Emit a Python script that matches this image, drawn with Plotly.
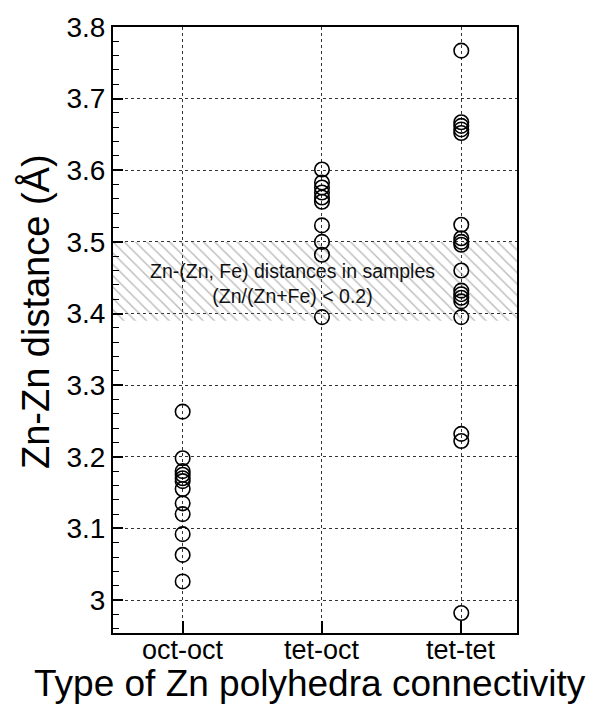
import plotly.graph_objects as go

# ---- data ----
categories = ["oct-oct", "tet-oct", "tet-tet"]
oct_oct = [3.263, 3.198, 3.180, 3.175, 3.170, 3.166, 3.155, 3.135, 3.120, 3.092, 3.063, 3.026]
tet_oct = [3.601, 3.583, 3.576, 3.569, 3.562, 3.556, 3.523, 3.500, 3.482, 3.395]
tet_tet = [3.767, 3.667, 3.662, 3.657, 3.652, 3.524, 3.505, 3.500, 3.496, 3.460,
           3.432, 3.427, 3.422, 3.417, 3.395, 3.232, 3.222, 2.982]
band_range = [3.39, 3.50]
band_label = "Zn-(Zn, Fe) distances in samples<br>(Zn/(Zn+Fe) &lt; 0.2)"

x_range = [-0.5, 2.4]
y_range = [2.954, 3.8]
FONT = "Arial, Liberation Sans, Helvetica, sans-serif"

fig = go.Figure()

# hatched band
fig.add_trace(go.Scatter(
    x=[x_range[0], x_range[1], x_range[1], x_range[0], x_range[0]],
    y=[band_range[0], band_range[0], band_range[1], band_range[1], band_range[0]],
    mode="lines", line=dict(width=0), fill="toself",
    fillcolor="rgba(0,0,0,0)",
    fillpattern=dict(shape="\\", fgcolor="#7a7a7a", bgcolor="rgba(255,255,255,0)",
                     size=8, solidity=0.18),
    hoverinfo="skip", showlegend=False))

for i, vals in enumerate([oct_oct, tet_oct, tet_tet]):
    fig.add_trace(go.Scatter(
        x=[i] * len(vals), y=vals, mode="markers",
        marker=dict(symbol="circle-open", size=14.5, color="black",
                    line=dict(width=1.6, color="black")),
        showlegend=False))

fig.add_annotation(x=0.785, y=3.442, xref="x", yref="y", text=band_label,
                   showarrow=False, font=dict(family=FONT, size=19.5, color="#111"),
                   align="center")

# category labels under the axis
for i, c in enumerate(categories):
    fig.add_annotation(x=i, y=-0.028, xref="x", yref="paper", text=c,
                       showarrow=False, xanchor="center", yanchor="middle",
                       font=dict(family=FONT, size=27, color="black"))

fig.add_annotation(x=0.488, y=-0.083, xref="paper", yref="paper",
                   text="Type of Zn polyhedra connectivity", showarrow=False,
                   font=dict(family=FONT, size=37, color="black"),
                   xanchor="center", yanchor="middle")
fig.add_annotation(x=-0.19, y=0.53, xref="paper", yref="paper",
                   text="Zn-Zn distance (Å)", showarrow=False, textangle=-90,
                   font=dict(family=FONT, size=38, color="black"),
                   xanchor="center", yanchor="middle")

fig.update_xaxes(
    range=x_range, tickmode="array", tickvals=[0, 1, 2], showticklabels=False,
    ticks="inside", ticklen=12, tickwidth=1.5, tickcolor="black",
    showline=True, linecolor="black", linewidth=2, mirror=True,
    showgrid=True, gridcolor="#333", gridwidth=1, griddash="dot",
    zeroline=False)
fig.update_yaxes(
    range=y_range, dtick=0.1, tick0=3.0,
    ticks="inside", ticklen=10, tickwidth=1.5, tickcolor="black",
    minor=dict(ticks="inside", ticklen=6, dtick=0.02, tick0=3.0,
               tickcolor="black", tickwidth=1.2, showgrid=False),
    showline=True, linecolor="black", linewidth=2, mirror=True,
    showgrid=True, gridcolor="#333", gridwidth=1, griddash="dot",
    zeroline=False, tickfont=dict(family=FONT, size=28, color="black"))

fig.update_layout(
    width=605, height=705,
    margin=dict(l=113, r=88, t=20, b=72),
    paper_bgcolor="white", plot_bgcolor="white",
    showlegend=False)

fig.write_html("out.html")
